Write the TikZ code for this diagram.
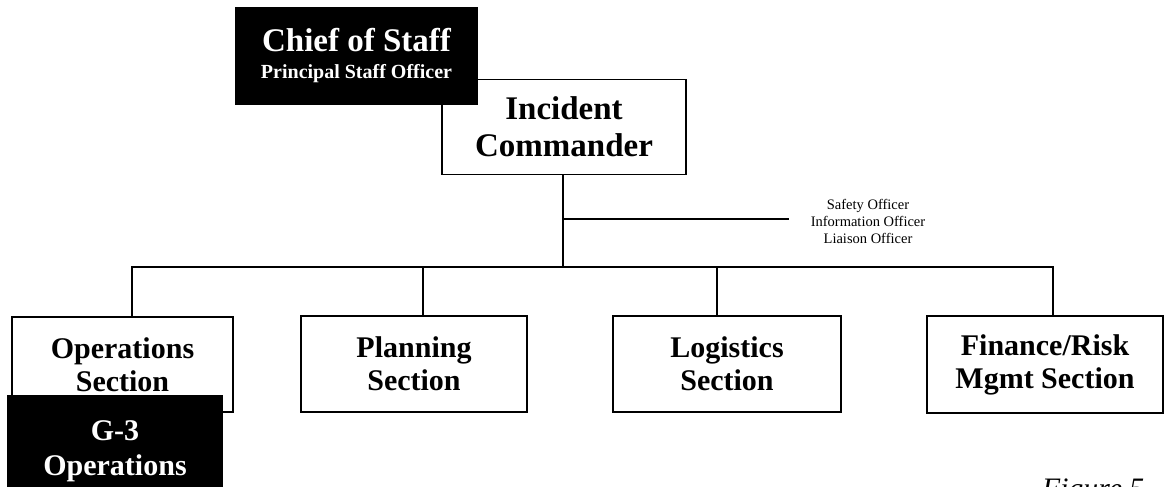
\documentclass[tikz,border=0pt]{standalone}
\usepackage{fontspec}
\setmainfont{Liberation Serif}
\begin{document}
\begin{tikzpicture}[x=1pt,y=-1pt,
  box/.style={draw=black, fill=white, line width=1.9pt, inner sep=0pt, align=center, font=\bfseries\fontsize{30}{33}\selectfont},
  blackbox/.style={draw=black, fill=black, text=white, line width=1.9pt, inner sep=0pt, align=center},
  conn/.style={line width=1.9pt, line cap=rect}
]
\useasboundingbox (0,0) rectangle (1165,487);
\clip (0,0) rectangle (1165,487);

% Incident Commander (drawn first, Chief of Staff overlaps it)
\node[box, minimum width=244pt, minimum height=95pt, font=\bfseries\fontsize{33}{37}\selectfont] (ic) at (564,127) {Incident\\Commander};
\node[blackbox, minimum width=241pt, minimum height=97pt, font=\bfseries\fontsize{20}{27}\selectfont] (cos) at (356.5,56)
  {{\fontsize{33}{37}\selectfont Chief of Staff}\\Principal Staff Officer};

% Sections
\node[box, minimum width=221pt, minimum height=95pt] (ops) at (122.5,364.5) {Operations\\Section};
\node[box, minimum width=226pt, minimum height=96pt] (plan) at (414,364) {Planning\\Section};
\node[box, minimum width=228pt, minimum height=96pt] (log) at (727,364) {Logistics\\Section};
\node[box, minimum width=236pt, minimum height=97pt] (fin) at (1045,364.5) {Finance/Risk\\Mgmt Section};

% G-3 overlapping Operations
\node[blackbox, minimum width=214pt, minimum height=110pt, font=\bfseries\fontsize{30}{35}\selectfont] (g3) at (115,451) {G-3\\Operations};

% Connectors
\coordinate (bus) at (563,267);
\coordinate (staffj) at (563,219);
\coordinate (staffend) at (788,219);
\coordinate (opsx) at (132,267);
\coordinate (planx) at (423,267);
\coordinate (logx) at (717,267);
\coordinate (finx) at (1053,267);

\draw[conn] (ic.south -| bus) -- (bus);
\draw[conn] (staffj) -- (staffend);
\draw[conn] (opsx) -- (finx);
\draw[conn] (opsx) -- (ops.north -| opsx);
\draw[conn] (planx) -- (plan.north -| planx);
\draw[conn] (logx) -- (log.north -| logx);
\draw[conn] (finx) -- (fin.north -| finx);

% Staff officers
\node[align=center, inner sep=0pt, font=\fontsize{14.5}{17}\selectfont] (staff) at (868,221)
  {Safety Officer\\Information Officer\\Liaison Officer};

% Figure caption (cut off by the lower edge, as in the reference)
\node[anchor=base west, inner sep=0pt, font=\itshape\fontsize{29.7}{32}\selectfont] (fig) at (1042,498) {Figure 5};
\end{tikzpicture}
\end{document}
